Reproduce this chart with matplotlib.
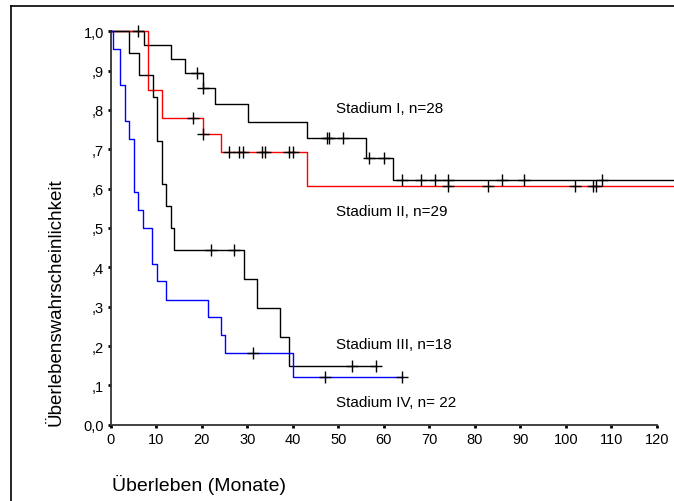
"""Kaplan-Meier Überlebenskurven nach Tumorstadium."""

import matplotlib

matplotlib.use("Agg")
import matplotlib.pyplot as plt
from matplotlib.lines import Line2D
import numpy as np

plt.rcParams["font.family"] = ["Liberation Sans", "DejaVu Sans"]

# Stufenfunktionen: Zeitpunkte der Ereignisse (Monate) und Überleben danach
stage1_t = [0, 7.3, 13.2, 16.3, 20.3, 22.9, 30.2, 43.2, 56.0, 62.0]
stage1_s = [1.0, 0.964, 0.929, 0.893, 0.855, 0.814, 0.770, 0.729, 0.679, 0.622]
stage1_end = 124.0
stage1_cens = [6.0, 18.9, 20.3, 47.5, 48.0, 51.0, 56.8, 60.0, 64.1, 68.2, 71.2,
               74.1, 85.9, 90.9, 108.0]

stage2_t = [0, 8.2, 11.3, 20.3, 24.2, 43.2]
stage2_s = [1.0, 0.851, 0.779, 0.739, 0.692, 0.606]
stage2_end = 124.0
stage2_cens = [18.0, 20.3, 26.0, 28.3, 29.0, 33.3, 34.0, 39.2, 40.0, 74.1, 82.9,
               102.0, 106.1, 106.7]

stage3_t = [0, 4.0, 6.2, 9.2, 10.2, 11.3, 12.1, 13.2, 14.0, 29.3, 32.1, 37.3, 39.1]
stage3_s = [1.0, 0.944, 0.889, 0.833, 0.722, 0.611, 0.556, 0.5, 0.444, 0.370,
            0.296, 0.222, 0.148]
stage3_end = 58.3
stage3_cens = [22.1, 27.0, 53.0, 58.3]

stage4_t = [0, 0.4, 2.0, 3.1, 4.1, 5.2, 6.1, 7.1, 9.1, 10.2, 12.2, 21.3, 24.2,
            25.2, 40.1]
stage4_s = [1.0, 0.955, 0.864, 0.773, 0.727, 0.591, 0.545, 0.5, 0.409, 0.364,
            0.318, 0.273, 0.227, 0.182, 0.121]
stage4_end = 64.1
stage4_cens = [31.2, 47.1, 64.1]

labels = ["Stadium I, n=28", "Stadium II, n=29", "Stadium III, n=18",
          "Stadium IV, n= 22"]
label_y = [0.805, 0.542, 0.205, 0.058]
label_x = 49.5

y_ticks = [0.0, 0.1, 0.2, 0.3, 0.4, 0.5, 0.6, 0.7, 0.8, 0.9, 1.0]
y_ticklabels = ["0,0", ",1", ",2", ",3", ",4", ",5", ",6", ",7", ",8", ",9", "1,0"]
x_ticks = list(range(0, 121, 10))


def surv_at(times, surv, t):
    idx = np.searchsorted(times, t, side="right") - 1
    return np.asarray(surv)[idx]


fig = plt.figure(figsize=(6.74, 5.02), dpi=100)
ax = fig.add_axes([0.1643, 0.152, 0.8100, 0.7837])

curves = [
    (stage1_t, stage1_s, stage1_end, stage1_cens, "black"),
    (stage2_t, stage2_s, stage2_end, stage2_cens, "#ff0000"),
    (stage3_t, stage3_s, stage3_end, stage3_cens, "black"),
    (stage4_t, stage4_s, stage4_end, stage4_cens, "#0000ff"),
]

for times, surv, end, cens, color in curves:
    xs = list(times) + [end]
    ys = list(surv) + [surv[-1]]
    ax.step(xs, ys, where="post", color=color, lw=1.0, clip_on=False, zorder=3)

for times, surv, end, cens, color in curves:
    ax.plot(cens, surv_at(times, surv, cens), linestyle="none", marker="+",
            color="black", markersize=8, mew=1.0, clip_on=False, zorder=4)

for text, y in zip(labels, label_y):
    ax.text(label_x, y, text, fontsize=11, va="center", ha="left")

ax.set_xlim(0, 120)
ax.set_ylim(0, 1.0)
ax.set_xticks(x_ticks)
ax.set_yticks(y_ticks)
ax.set_yticklabels(y_ticklabels)
ax.tick_params(direction="out", length=2, width=2, labelsize=10.5, pad=3)
for side in ("top", "right"):
    ax.spines[side].set_visible(False)
for side in ("left", "bottom"):
    ax.spines[side].set_linewidth(1.3)
    ax.spines[side].set_color("#333333")

fig.text(0.1657, 0.034, "Überleben (Monate)", fontsize=14, ha="left", va="center")
fig.text(0.083, 0.398, "Überlebenswahrscheinlichkeit", fontsize=13.5, rotation=90,
         ha="center", va="center")

# Rahmen um die Grafik (rechts und unten abgeschnitten)
fig.add_artist(Line2D([0.0163, 1.0], [0.986, 0.986], color="black", lw=1.2))
fig.add_artist(Line2D([0.0163, 0.0163], [0.0, 0.986], color="black", lw=1.2))

fig.savefig("out.png", dpi=100)
